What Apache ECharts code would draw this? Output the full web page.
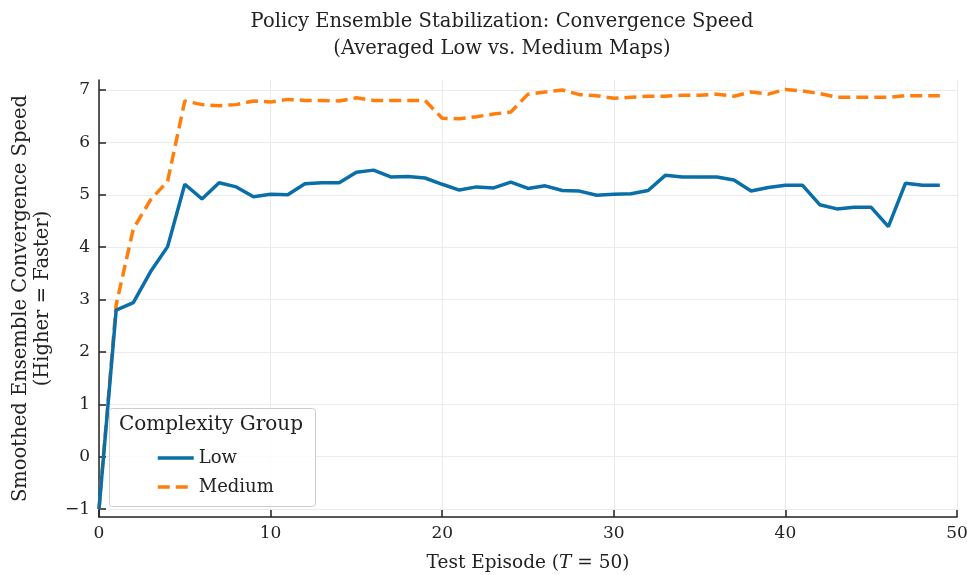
<!DOCTYPE html>
<html>
<head>
<meta charset="utf-8">
<script src="https://cdn.jsdelivr.net/npm/echarts@6/dist/echarts.min.js"></script>
<style>html,body{margin:0;padding:0;background:#fff}#c{width:967px;height:575px}</style>
</head>
<body>
<div id="c"></div>
<script>
const episodes = Array.from({length: 50}, (_, i) => i);
const lowValues = [-1.0, 2.80, 2.94, 3.53, 4.01, 5.20, 4.92, 5.23, 5.15, 4.96,
  5.01, 5.00, 5.21, 5.23, 5.23, 5.43, 5.47, 5.34, 5.35, 5.32,
  5.20, 5.09, 5.15, 5.13, 5.24, 5.12, 5.17, 5.08, 5.07, 4.99,
  5.01, 5.02, 5.08, 5.37, 5.34, 5.34, 5.34, 5.28, 5.07, 5.14,
  5.18, 5.18, 4.81, 4.73, 4.76, 4.76, 4.39, 5.22, 5.18, 5.18];
const mediumValues = [-1.0, 2.90, 4.35, 4.90, 5.26, 6.79, 6.72, 6.70, 6.72, 6.79,
  6.77, 6.82, 6.80, 6.80, 6.79, 6.85, 6.80, 6.80, 6.80, 6.80,
  6.46, 6.45, 6.49, 6.54, 6.58, 6.92, 6.96, 7.00, 6.91, 6.89,
  6.84, 6.86, 6.88, 6.88, 6.90, 6.90, 6.92, 6.88, 6.96, 6.92,
  7.01, 6.98, 6.93, 6.86, 6.86, 6.86, 6.86, 6.89, 6.89, 6.89];
const yTicks = [-1, 0, 1, 2, 3, 4, 5, 6, 7];
const xTicks = [0, 10, 20, 30, 40, 50];
const seriesNames = ['Low', 'Medium'];

const FONT = 'DejaVu Serif';
const chart = echarts.init(document.getElementById('c'));
chart.setOption({
  backgroundColor: '#fff',
  animation: false,
  textStyle: {fontFamily: FONT, color: '#222'},
  title: {
    text: 'Policy Ensemble Stabilization: Convergence Speed\n(Averaged Low vs. Medium Maps)',
    left: 497, top: 3, textAlign: 'center',
    textStyle: {fontFamily: FONT, fontSize: 19.5, fontWeight: 'normal', color: '#222', lineHeight: 27, align: 'center'}
  },
  grid: {left: 99, right: 10, top: 80, bottom: 58, containLabel: false, outerBoundsMode: 'none'},
  xAxis: {
    type: 'value', min: 0, max: 50, interval: 10,
    name: '{n|Test Episode (}{i|T}{n| = 50)}',
    nameLocation: 'middle', nameGap: 37,
    nameTextStyle: {rich: {n: {fontFamily: FONT, fontSize: 18.5, color: '#222'}, i: {fontFamily: FONT, fontSize: 18.5, fontStyle: 'italic', color: '#222'}}},
    axisLine: {show: true, onZero: false, lineStyle: {color: '#222', width: 1.5}},
    axisTick: {show: true, inside: true, length: 7, lineStyle: {color: '#222', width: 1.5}, customValues: xTicks},
    axisLabel: {fontFamily: FONT, fontSize: 17, color: '#222', margin: 8, customValues: xTicks},
    splitLine: {show: true, lineStyle: {color: '#ebebeb', width: 1}}
  },
  yAxis: {
    type: 'value', min: -1.15, max: 7.19,
    name: 'Smoothed Ensemble Convergence Speed\n(Higher = Faster)',
    nameLocation: 'middle', nameGap: 35,
    nameTextStyle: {fontFamily: FONT, fontSize: 19.5, color: '#222', lineHeight: 22, align: 'center'},
    axisLine: {show: true, onZero: false, lineStyle: {color: '#222', width: 1.5}},
    axisTick: {show: true, inside: true, length: 7, lineStyle: {color: '#222', width: 1.5}, customValues: yTicks},
    axisLabel: {fontFamily: FONT, fontSize: 17, color: '#222', margin: 9, customValues: yTicks,
      formatter: v => (v < 0 ? '\u2212' + Math.abs(v) : String(v))},
    splitLine: {show: true, lineStyle: {color: '#ebebeb', width: 1}}
  },
  legend: {
    orient: 'vertical', left: 151, top: 444, z: 60,
    itemWidth: 36, itemHeight: 12, itemGap: 11,
    data: seriesNames,
    itemStyle: {opacity: 0},
    lineStyle: {width: 3.5},
    textStyle: {fontFamily: FONT, fontSize: 18, color: '#222'}
  },
  graphic: [
    {type: 'rect', left: 109, top: 408, shape: {width: 206, height: 98, r: 3},
      style: {fill: 'rgba(255,255,255,0.85)', stroke: '#cccccc', lineWidth: 1}, z: 50},
    {type: 'text', left: 119, top: 415, z: 51,
      style: {text: 'Complexity Group', fontFamily: FONT, fontSize: 20, fill: '#222'}}
  ],
  series: [
    {name: seriesNames[0], type: 'line', showSymbol: false, symbol: 'none',
      data: episodes.map((x, i) => [x, lowValues[i]]),
      lineStyle: {color: '#0a6fa8', width: 3.5}, itemStyle: {color: '#0a6fa8'}, z: 3},
    {name: seriesNames[1], type: 'line', showSymbol: false, symbol: 'none',
      data: episodes.map((x, i) => [x, mediumValues[i]]),
      lineStyle: {color: '#ff7f0e', width: 3.5, type: [12, 6]}, itemStyle: {color: '#ff7f0e'}, z: 2}
  ]
});
</script>
</body>
</html>
